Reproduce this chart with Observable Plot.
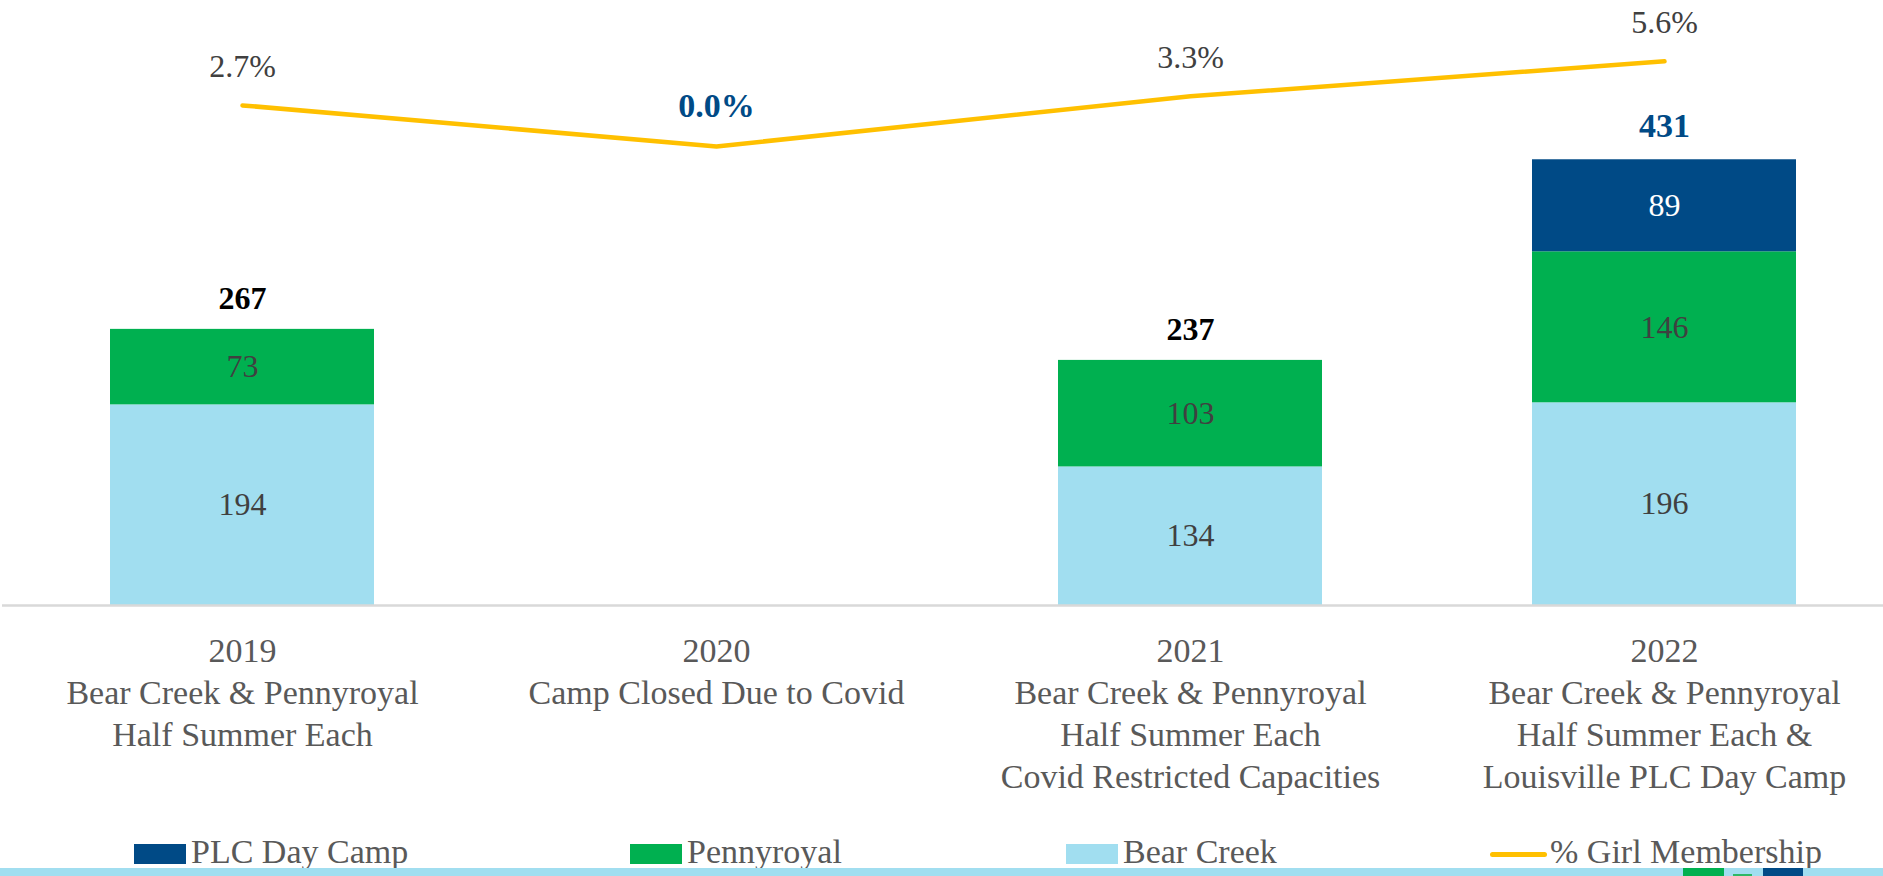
<!DOCTYPE html>
<html>
<head>
<meta charset="utf-8">
<script src="https://cdn.jsdelivr.net/npm/d3@7"></script>
<script src="https://cdn.jsdelivr.net/npm/@observablehq/plot@0.6"></script>
<style>
  html, body { margin: 0; padding: 0; background: #fff; overflow: hidden; }
  #page { position: relative; width: 1883px; height: 876px; font-family: "Liberation Serif", serif; }
  #chart { position: absolute; left: 0; top: 0; }
  .legend-item { position: absolute; top: 835px; height: 34px; line-height: 34px; font-size: 34px; color: #595959; white-space: nowrap; display: flex; align-items: flex-start; }
  .sw { width: 52px; height: 20px; margin-top: 9px; margin-right: 5px; }
  .swline { width: 57px; height: 5px; border-radius: 3px; background: #FFC000; margin-top: 17px; margin-right: 3px; }
  #strip { position: absolute; left: 0; top: 868px; width: 1883px; height: 8px; background: #A1DEF0; }
  .deco { position: absolute; }
</style>
</head>
<body>
<div id="page">
  <div id="chart"></div>
  <div id="legend"></div>
  <div id="strip"></div>
  <div class="deco" style="left:1683px;top:868px;width:41px;height:8px;background:#00B050"></div>
  <div class="deco" style="left:1733px;top:874px;width:19px;height:2px;background:#2DB866"></div>
  <div class="deco" style="left:1763px;top:868px;width:40px;height:8px;background:#004A86"></div>
</div>
<script>
const years = ["2019", "2020", "2021", "2022"];
const categoryLabels = [
  "2019\nBear Creek & Pennyroyal\nHalf Summer Each",
  "2020\nCamp Closed Due to Covid",
  "2021\nBear Creek & Pennyroyal\nHalf Summer Each\nCovid Restricted Capacities",
  "2022\nBear Creek & Pennyroyal\nHalf Summer Each &\nLouisville PLC Day Camp"
];
const bearCreek = [194, 0, 134, 196];
const pennyroyal = [73, 0, 103, 146];
const plcDayCamp = [0, 0, 0, 89];
const girlMembershipPct = [2.7, 0.0, 3.3, 5.6];
const seriesNames = ["Bear Creek", "Pennyroyal", "PLC Day Camp"];
const seriesColors = ["#A1DEF0", "#00B050", "#004A86"];
const legendNames = ["PLC Day Camp", "Pennyroyal", "Bear Creek", "% Girl Membership"];
const highlightTotalYear = "2022";
const highlightPctYear = "2020";

// table built from the arrays
const seriesValues = [bearCreek, pennyroyal, plcDayCamp];
const rows = years.flatMap((year, i) => {
  let base = 0;
  return seriesValues.map((arr, s) => {
    const r = {year, series: seriesNames[s], value: arr[i], mid: base + arr[i] / 2};
    base += arr[i];
    return r;
  });
});
const totals = years.map((year, i) => ({year, total: bearCreek[i] + pennyroyal[i] + plcDayCamp[i]}));
const pctRows = years.map((year, i) => ({year, pct: girlMembershipPct[i]}));

// secondary axis for the percentage line, mapped onto the primary value axis
const yMax = 585;
const pctToY = d3.scaleLinear().domain([-30.2, 9.6]).range([0, yMax]);

const labelColor = "#404040";
const chart = Plot.plot({
  width: 1883,
  height: 810,
  marginTop: 0,
  marginBottom: 205,
  marginLeft: 2,
  marginRight: 0,
  style: {fontFamily: "Liberation Serif", background: "transparent"},
  x: {domain: years, range: [0, 1906], paddingInner: 0.444, paddingOuter: 0.2295, align: 0.5, label: null},
  y: {domain: [0, yMax], axis: null},
  color: {domain: seriesNames, range: seriesColors},
  marks: [
    Plot.barY(rows.filter(d => d.value > 0), {x: "year", y: "value", fill: "series"}),
    Plot.ruleY([0], {stroke: "#D9D9D9", strokeWidth: 2.5}),
    Plot.text(rows.filter(d => d.value > 0 && d.series !== "PLC Day Camp"), {
      x: "year", y: "mid", text: d => String(d.value), fontSize: 32, fill: labelColor
    }),
    Plot.text(rows.filter(d => d.value > 0 && d.series === "PLC Day Camp"), {
      x: "year", y: "mid", text: d => String(d.value), fontSize: 32, fill: "white"
    }),
    Plot.text(totals.filter(d => d.total > 0 && d.year !== highlightTotalYear), {
      x: "year", y: "total", text: d => String(d.total), lineAnchor: "bottom", dy: -20,
      fontSize: 32, fontWeight: "bold", fill: "#000"
    }),
    Plot.text(totals.filter(d => d.total > 0 && d.year === highlightTotalYear), {
      x: "year", y: "total", text: d => String(d.total), lineAnchor: "bottom", dy: -23,
      fontSize: 34, fontWeight: "bold", fill: "#004A86"
    }),
    Plot.line(pctRows, {
      x: "year", y: d => pctToY(d.pct), stroke: "#FFC000", strokeWidth: 4.5,
      strokeLinecap: "round", strokeLinejoin: "round"
    }),
    Plot.text(pctRows.filter(d => d.year !== highlightPctYear), {
      x: "year", y: d => pctToY(d.pct), text: d => d.pct.toFixed(1) + "%",
      lineAnchor: "bottom", dy: -28, fontSize: 32, fill: labelColor
    }),
    Plot.text(pctRows.filter(d => d.year === highlightPctYear), {
      x: "year", y: d => pctToY(d.pct), text: d => d.pct.toFixed(1) + "%",
      lineAnchor: "bottom", dy: -29, fontSize: 34, fontWeight: "bold", fill: "#004A86"
    }),
    Plot.axisX({
      tickSize: 0, tickPadding: 27, fontSize: 34, lineHeight: 1.235, fill: "#595959",
      label: null, tickFormat: d => categoryLabels[years.indexOf(d)]
    })
  ]
});
document.getElementById("chart").appendChild(chart);

// legend
const legendLeft = [134, 630, 1066, 1490];
const legendColor = {"PLC Day Camp": "#004A86", "Pennyroyal": "#00B050", "Bear Creek": "#A1DEF0"};
const legend = document.getElementById("legend");
legendNames.forEach((name, i) => {
  const item = document.createElement("div");
  item.className = "legend-item";
  item.style.left = legendLeft[i] + "px";
  const sw = document.createElement("div");
  if (legendColor[name]) { sw.className = "sw"; sw.style.background = legendColor[name]; }
  else { sw.className = "swline"; }
  const t = document.createElement("span");
  t.textContent = name;
  item.appendChild(sw);
  item.appendChild(t);
  legend.appendChild(item);
});
</script>
</body>
</html>
